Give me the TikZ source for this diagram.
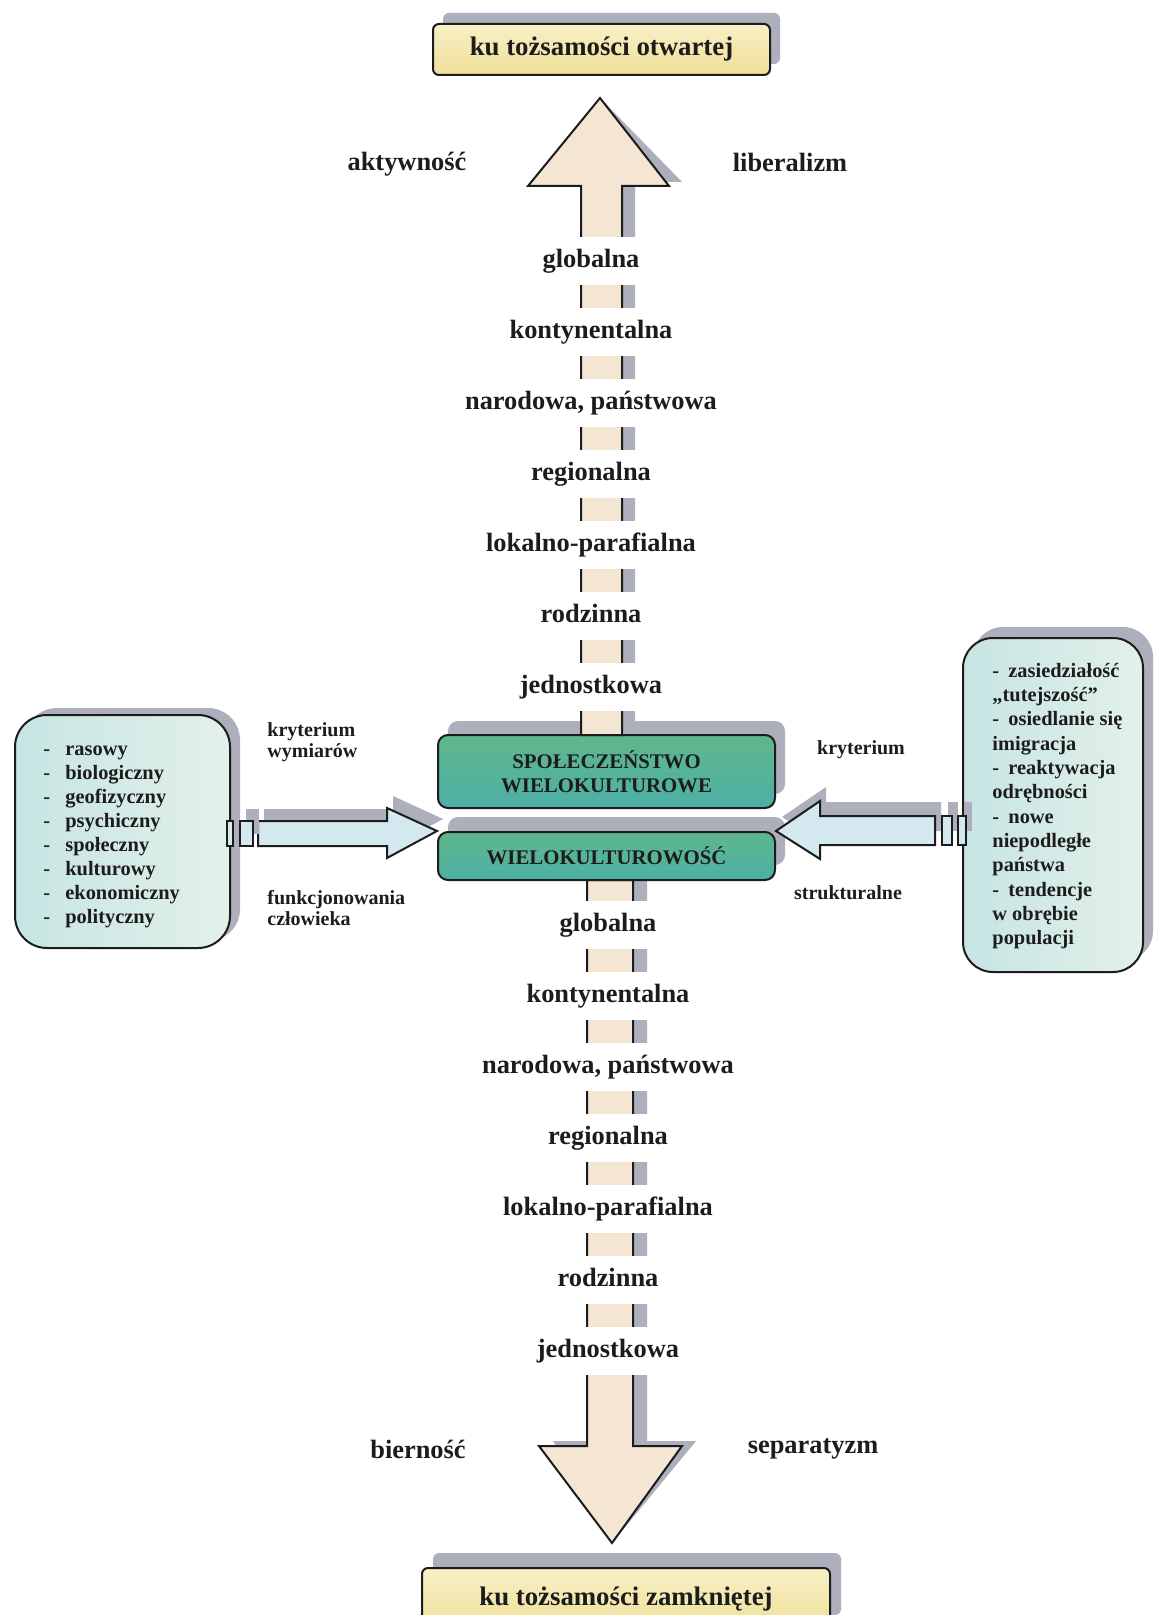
\documentclass[tikz,border=0pt]{standalone}
\usepackage{fontspec}
\setmainfont{Liberation Serif}
\usetikzlibrary{shadows}
\definecolor{ink}{HTML}{1C1C1C}
\definecolor{castgray}{HTML}{ADAFBC}
\definecolor{sand}{HTML}{F4E6D3}
\definecolor{straw}{HTML}{EFDF98}
\definecolor{strawlight}{HTML}{F8F0C6}
\definecolor{teal1}{HTML}{5FB78B}
\definecolor{teal2}{HTML}{4DB0A6}
\definecolor{mint1}{HTML}{C6E5E3}
\definecolor{mint2}{HTML}{E3F0EA}
\definecolor{ice}{HTML}{D4E9EF}
\begin{document}
\begin{tikzpicture}[x=0.5pt,y=-0.5pt,
  cast/.style 2 args={general shadow={fill=castgray,draw=none,shadow xshift=#1,shadow yshift=#2}},
  outline/.style={draw=ink,line width=1pt},
  big/.style={font=\fontsize{13.2}{15}\selectfont\bfseries,text=ink},
  small/.style={font=\fontsize{10.2}{12}\selectfont\bfseries,text=ink},
  endbox/.style={outline,rounded corners=3pt,top color=strawlight,bottom color=straw,
    font=\fontsize{13.4}{15}\selectfont\bfseries,text=ink},
  corebox/.style={outline,rounded corners=5pt,top color=teal1,bottom color=teal2,
    font=\fontsize{10.4}{12}\selectfont\bfseries,text=ink,align=center,
    minimum width=168.5pt},
  sidebox/.style={outline,rounded corners=16pt,left color=mint1,right color=mint2},
  shaftlabel/.style={big,fill=white,minimum height=24pt,inner xsep=3pt,inner ysep=0pt,
    text height=9.3pt,text depth=3pt},
  bigarrow/.style={outline,fill=sand,line join=miter},
  sidearrow/.style={outline,fill=ice,line join=miter},
  listline/.style={small,anchor=base west,inner sep=0pt},
  note/.style={font=\fontsize{10}{10.5}\selectfont\bfseries,text=ink,inner sep=0pt}]

% page
\fill[white] (0,0) rectangle (1154,1615);
\useasboundingbox (0,0) rectangle (1154,1615);

% the two poles
\node[endbox,cast={5pt}{5.5pt},minimum width=168.5pt,minimum height=25.5pt]
  (open) at (601.5,49.5) {ku tożsamości otwartej};
\node[endbox,cast={5.5pt}{7.5pt},minimum width=204pt,minimum height=31pt]
  (closed) at (626,1599) {ku tożsamości zamkniętej};

% downward arrow towards the closed identity
\coordinate (dnTip) at (612,1543);
\fill[castgray,shift={(14,-5)}] (587,884) -- (587,1446) -- (539,1446) -- (dnTip)
  -- (682,1446) -- (633,1446) -- (633,884) -- cycle;
\draw[bigarrow] (587,880) -- (587,1446) -- (539,1446) -- (dnTip)
  -- (682,1446) -- (633,1446) -- (633,880) -- cycle;

% central boxes
\node[corebox,cast={5pt}{7.5pt},minimum height=24pt] (multi) at (606.5,856) {WIELOKULTUROWOŚĆ};
\node[corebox,cast={5pt}{7pt},minimum height=36.5pt] (society) at (606.5,771.5)
  {SPOŁECZEŃSTWO\\WIELOKULTUROWE};

% upward arrow towards the open identity
\coordinate (upTip) at (600,98);
\fill[castgray,shift={(13,-4)}] (upTip) -- (669,186) -- (622,186) -- (622,735)
  -- (581,735) -- (581,186) -- (528,186) -- cycle;
\draw[bigarrow] (upTip) -- (669,186) -- (622,186) -- (622,735)
  -- (581,735) -- (581,186) -- (528,186) -- cycle;

% levels of identity along both arrows
\foreach \lvl [count=\i from 0] in {globalna,kontynentalna,{narodowa, państwowa},
    regionalna,lokalno-parafialna,rodzinna,jednostkowa}{
  \node[shaftlabel] (up\i) at (591,{261+71*\i}) {\lvl};
  \node[shaftlabel] (dn\i) at (608,{925+71*\i}) {\lvl};
}

% attitudes beside the arrows
\node[big] (act) at (407,164) {aktywność};
\node[big] (lib) at (790,162) {liberalizm};
\node[big] (pas) at (418,1449) {bierność};
\node[big] (sep) at (813,1449) {separatyzm};

% dimensions of human functioning
\node[sidebox,cast={5pt}{3.5pt},minimum width=107.5pt,minimum height=116.5pt]
  (dims) at (122.5,831.5) {};
\foreach \w [count=\i from 0] in {rasowy,biologiczny,geofizyczny,psychiczny,
    społeczny,kulturowy,ekonomiczny,polityczny}{
  \node[listline] (dim\i) at (43,{755+24*\i}) {\makebox[11pt][l]{-}\w};
}

% structural factors
\node[sidebox,cast={5pt}{5.5pt},rounded corners=15pt,minimum width=90pt,minimum height=167pt]
  (struct) at (1053,805) {};
\foreach \d/\w [count=\i from 0] in {1/zasiedziałość,0/{„tutejszość”},1/{osiedlanie się},
    0/imigracja,1/reaktywacja,0/odrębności,1/nowe,0/niepodległe,0/państwa,
    1/tendencje,0/{w obrębie},0/populacji}{
  \node[listline] (fac\i) at (992,{677+24.36*\i}) {\ifnum\d=1 \makebox[8pt][l]{-}\fi\w};
}

% left arrow: dimensions into multiculturalism
\coordinate (lTip) at (multi.north west);
\draw[sidearrow,cast={3pt}{6pt}] (258,821) -- (387,821) -- (387,808) -- (lTip)
  -- (387,858) -- (387,846) -- (258,846) -- cycle;
\draw[sidearrow,cast={3pt}{6pt}] (240,821) rectangle (253,846);
\draw[sidearrow,cast={3pt}{6pt}] (227,821) rectangle (233,846);

% right arrow: structural factors into multiculturalism
\coordinate (rTip) at (multi.north east);
\draw[sidearrow,cast={3pt}{7pt}] (935,816) -- (820,816) -- (820,801) -- (rTip)
  -- (820,859) -- (820,845) -- (935,845) -- cycle;
\draw[sidearrow,cast={3pt}{7pt}] (942,816) rectangle (952,845);
\draw[sidearrow,cast={3pt}{7pt}] (958,816) rectangle (966,845);

% criteria labels
\node[note,anchor=west,align=left] (critA) at (267,742) {kryterium\\wymiarów};
\node[note,anchor=west,align=left] (critB) at (267,908.5) {funkcjonowania\\człowieka};
\node[note] (critC) at (861,750) {kryterium};
\node[note] (critD) at (848,893) {strukturalne};
\end{tikzpicture}
\end{document}
